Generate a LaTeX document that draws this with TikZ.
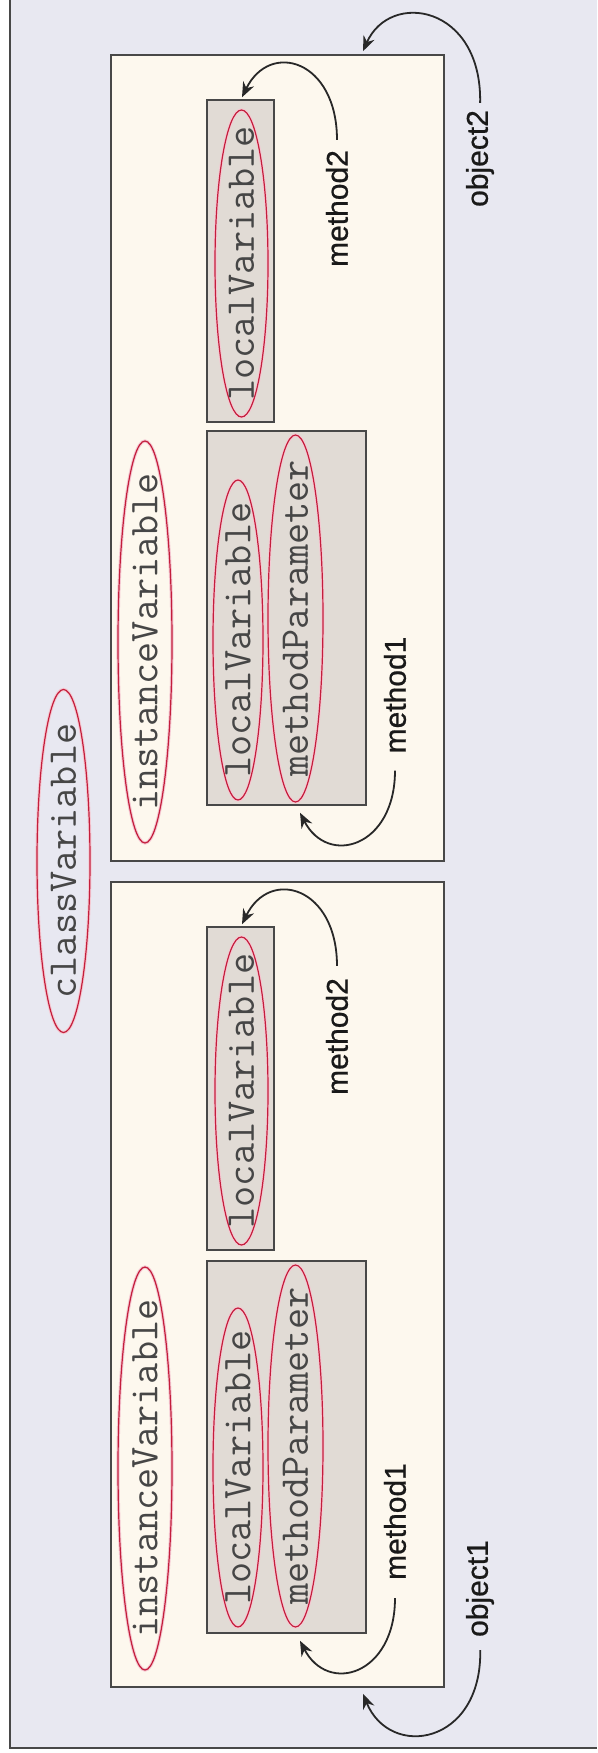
\documentclass[tikz,border=0pt]{standalone}
\usepackage{fontspec}
\newfontfamily\lblfont[FakeBold=0.7]{Liberation Sans}
\usetikzlibrary{shapes.geometric,arrows.meta,calc}

\definecolor{pagebg}{RGB}{232,232,241}
\definecolor{cream}{RGB}{253,248,238}
\definecolor{methfill}{RGB}{225,219,213}
\definecolor{boxline}{RGB}{72,72,72}
\definecolor{varred}{RGB}{195,30,60}
\definecolor{varglow}{RGB}{245,200,210}
\definecolor{codetext}{RGB}{70,70,70}
\definecolor{arrowcol}{RGB}{40,40,40}

% variable names take no width, so the ellipse size comes from the style
\newcommand\code[1]{\makebox[0pt]{#1}}

\begin{document}
\begin{tikzpicture}[x=1pt,y=-1pt,
  frameline/.style={draw=boxline, line width=1.8pt},
  objbox/.style={draw=boxline, line width=1.6pt, fill=cream, minimum width=333pt, inner sep=0pt},
  methbox/.style={draw=boxline, line width=1.5pt, fill=methfill, inner sep=0pt},
  var/.style={ellipse, draw=varred, line width=1.2pt, preaction={draw=varglow, line width=3.2pt},
              rotate=90, inner sep=0pt, text=codetext,
              font=\ttfamily\fontsize{41}{45}\selectfont},
  lbl/.style={rotate=90, inner sep=0pt, text=black!90, font=\lblfont\fontsize{30}{34}\selectfont},
  arr/.style={draw=arrowcol, line width=1.8pt, -{Stealth[length=15pt,width=12pt]}},
]
\useasboundingbox (0,0) rectangle (597,1753);
\fill[white] (0,0) rectangle (597,1753);
\fill[pagebg] (10,0) rectangle (597,1748);
\draw[frameline] (10,0) -- (10,1748) -- (597,1748);

% class variable
\node[var, minimum width=343pt, minimum height=53pt] (classvar) at (63.5,861) {\code{classVariable}};

% object boxes
\node[objbox, minimum height=806pt] (obj2) at (277.5,458) {};
\node[objbox, minimum height=805pt] (obj1) at (277.5,1284.5) {};

% method boxes
\node[methbox, minimum width=67pt,  minimum height=322pt] (o2m2) at (240.5,261) {};
\node[methbox, minimum width=159pt, minimum height=374pt] (o2m1) at (286.5,618) {};
\node[methbox, minimum width=67pt,  minimum height=323pt] (o1m2) at (240.5,1088.5) {};
\node[methbox, minimum width=159pt, minimum height=372pt] (o1m1) at (286.5,1447) {};

% object2 variables
\node[var, minimum width=402pt, minimum height=54pt] (o2inst)    at (145,642)     {\code{instanceVariable}};
\node[var, minimum width=307pt, minimum height=53pt] (o2m2local) at (241.5,263.5) {\code{localVariable}};
\node[var, minimum width=320pt, minimum height=50pt] (o2m1local) at (238,640)     {\code{localVariable}};
\node[var, minimum width=367pt, minimum height=55pt] (o2m1param) at (295.5,618.5) {\code{methodParameter}};

% object1 variables
\node[var, minimum width=403pt, minimum height=54pt] (o1inst)    at (145,1468.5)  {\code{instanceVariable}};
\node[var, minimum width=308pt, minimum height=53pt] (o1m2local) at (241.5,1091)  {\code{localVariable}};
\node[var, minimum width=319pt, minimum height=50pt] (o1m1local) at (238,1467.5)  {\code{localVariable}};
\node[var, minimum width=362pt, minimum height=55pt] (o1m1param) at (295.5,1446)  {\code{methodParameter}};

% labels
\node[lbl] (o2m2lbl) at (337,208.5)  {method2};
\node[lbl] (o2m1lbl) at (395,695)    {method1};
\node[lbl] (obj2lbl) at (480,158.5)  {object2};
\node[lbl] (o1m2lbl) at (337,1036.5) {method2};
\node[lbl] (o1m1lbl) at (395,1521.5) {method1};
\node[lbl] (obj1lbl) at (480,1588.5) {object1};

% connectors from labels to their boxes
\draw[arr, shorten <=10pt] (o2m2lbl.east) .. controls (337,60) and (270,40) .. ($(o2m2.north)+(1.5,-2)$);
\draw[arr, shorten <=17pt] (o2m1lbl.west) .. controls (395,847) and (328,867) .. ($(o2m1.south)+(13.5,7)$);
\draw[arr, shorten <=7pt]  (obj2lbl.east) .. controls (482,5) and (390,-10) .. ($(obj2.north)+(85.5,-3)$);
\draw[arr, shorten <=12pt] (o1m2lbl.east) .. controls (337,887) and (270,867) .. ($(o1m2.north)+(1.5,-2)$);
\draw[arr, shorten <=18pt] (o1m1lbl.west) .. controls (395,1675) and (328,1695) .. ($(o1m1.south)+(13.5,7)$);
\draw[arr, shorten <=13pt] (obj1lbl.west) .. controls (482,1745) and (390,1760) .. ($(obj1.south)+(85.5,6)$);
\end{tikzpicture}
\end{document}
